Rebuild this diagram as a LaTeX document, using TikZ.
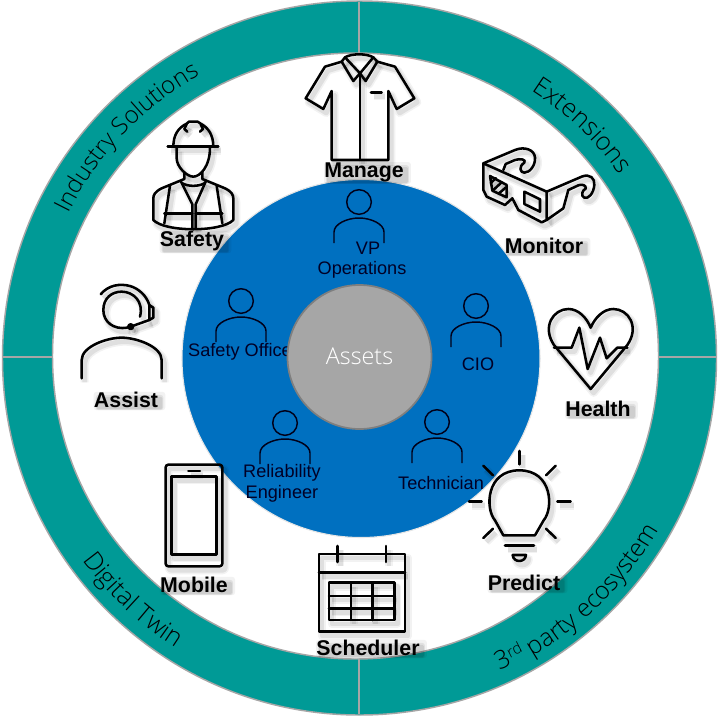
\documentclass[tikz,border=0pt]{standalone}
\usepackage{fontspec}
\setmainfont{Liberation Sans}
\newfontfamily\ringfont[UprightFont=* Light]{Open Sans}
\usetikzlibrary{decorations.text}
\definecolor{teal1}{HTML}{009A96}
\definecolor{blue1}{HTML}{0070C0}
\definecolor{grey1}{HTML}{A6A6A6}
\definecolor{grey2}{HTML}{7F7F7F}
\tikzset{
  ic/.style={},
  lw/.style={line width=1.9pt,line join=round,line cap=round},
  iconlabel/.style={font=\fontsize{16}{16}\selectfont\bfseries,inner sep=0pt},
  rolelabel/.style={font=\fontsize{13.6}{14}\selectfont,inner sep=0pt,text=black!85!blue},
  persondraw/.style={line width=1.1pt,draw=black!90!blue},
  person/.pic={
    \draw[persondraw] (0,0) circle[radius=12.3];
    \draw[persondraw] (-25,41) -- (-25,30) .. controls (-25,22) and (-12,16) .. (0,16) .. controls (12,16) and (25,22) .. (25,30) -- (25,41);
  }
}
% soft-shadowed line icon
\newcommand\softicon[2]{%
  \begin{scope}[shift={(3,4)}]\begin{scope}[#1]
    \tikzset{ic/.style={draw=black,opacity=.05,line width=6pt,line join=round}}#2
    \tikzset{ic/.style={draw=black,opacity=.08,line width=3.5pt,line join=round}}#2
  \end{scope}\end{scope}
  \begin{scope}[#1]
    \tikzset{ic/.style={draw=black,lw}}#2
  \end{scope}}
% bold label with a soft smudge of shadow (black on black leaves the text as it is)
\newcommand\lbl[4]{%
  \node[iconlabel] (#1) at (#2,#3) {#4};
  \fill[black,opacity=.05,rounded corners=2pt] ([shift={(0,2)}]#1.south west) rectangle ([shift={(7,0)}]#1.north east);
  \fill[black,opacity=.07,rounded corners=2pt] ([shift={(2,2)}]#1.south west) rectangle ([shift={(5,3)}]#1.north east);
  \fill[black,opacity=.08,rounded corners=1pt] ([shift={(3,1)}]#1.south west) rectangle ([shift={(4,5)}]#1.north east);}
\newcommand\ringtext[5]{%
  \path[decorate,decoration={text along path,text align=center,text={|\ringfont\fontsize{#5}{#5}\selectfont|#4}}]
    (359.5,358) ++(#1:#3*0.75pt) arc[start angle=#1,end angle=#2,radius=#3*0.75pt];}
\begin{document}
\begin{tikzpicture}[x=0.75pt,y=-0.75pt]
\path[use as bounding box,fill=white] (0,0) rectangle (720,717);
% ring
\path[fill=teal1,even odd rule,draw=grey1,line width=1.1pt]
  (359.5,358) circle[radius=357] (355.5,356) circle[radius=303];
\coordinate (dt1) at (359,2); \coordinate (dt2) at (359,53);
\coordinate (db1) at (359,659); \coordinate (db2) at (359,714);
\coordinate (dl1) at (2,357); \coordinate (dl2) at (52,357);
\coordinate (dr1) at (659,357); \coordinate (dr2) at (717,357);
\draw[grey1,line width=1.3pt] (dt1)--(dt2) (db1)--(db2) (dl1)--(dl2) (dr1)--(dr2);
% ring labels
\ringtext{154}{119}{325}{Industry Solutions}{18}
\ringtext{57}{35.5}{318}{Extensions}{19}
\ringtext{215.4}{238.3}{343}{Digital Twin}{19}
\ringtext{-60}{-29.7}{345}{party ecosystem}{18.5}
\node[inner sep=0pt,rotate=25,font=\ringfont\fontsize{19}{19}\selectfont] (third) at (502,659) {3};
\node[inner sep=0pt,rotate=27,font=\ringfont\fontsize{11.5}{11.5}\selectfont] (rd) at (514,650) {rd};
% blue disc
\path[fill=blue1,draw=black!10,line width=.8pt] (361,358.5) circle[radius=179];
\pic at (359,202) {person};
\pic at (241,301) {person};
\pic at (476,306) {person};
\pic at (285,423) {person};
\pic at (437,422) {person};
\node[rolelabel] (vp) at (368,248) {VP};
\node[rolelabel] (ops) at (362,270) {Operations};
\node[rolelabel] (so) at (243,352) {Safety Officer};
\node[rolelabel] (cio) at (478,364) {CIO};
\node[rolelabel] (rel) at (282,473) {Reliability};
\node[rolelabel] (eng) at (282,494) {Engineer};
\node[rolelabel] (tech) at (441,483) {Technician};
% centre
\node[circle,fill=grey1,draw=grey2,line width=1.3pt,minimum size=108pt,inner sep=0pt,font=\ringfont\fontsize{17.5}{18}\selectfont,text=white] (assets) at (359.5,357) {\raisebox{1pt}{Assets}};
% shirt
\softicon{shift={(295,45)},scale=0.3333}{
  \draw[ic] (150,37) -- (140,50) -- (90,65) -- (32,160) -- (85,192) -- (110,138) -- (110,345) -- (280,345) -- (280,138) -- (305,192) -- (358,160) -- (300,65) -- (247,50) -- (235,37) .. controls (215,25) and (170,25) .. (150,37);
  \draw[ic] (140,50) -- (175,108) -- (195,85) -- (212,108) -- (247,50);
  \draw[ic] (150,37) -- (195,85) -- (235,37);
  \draw[ic] (195,85) -- (195,345);
  \draw[ic] (228,142) -- (260,142);
}
% safety worker
\softicon{shift={(145,115)},scale=0.3333}{
  \draw[ic] (68,95) -- (220,95);
  \draw[ic] (85,95) .. controls (85,60) and (100,38) .. (125,26) -- (132,20) -- (158,20) -- (167,26) .. controls (190,38) and (205,60) .. (205,95);
  \draw[ic] (125,28) -- (118,42) -- (127,50);
  \draw[ic] (167,28) -- (174,42) -- (165,50);
  \draw[ic] (95,98) -- (95,130) .. controls (95,155) and (125,185) .. (145,185) .. controls (165,185) and (195,155) .. (195,98);
  \draw[ic] (118,172) -- (118,192) -- (50,220) .. controls (30,230) and (25,240) .. (25,250) -- (25,315) .. controls (60,352) and (230,352) .. (265,315) -- (265,250) .. controls (265,240) and (260,230) .. (240,220) -- (172,192) -- (172,172);
  \draw[ic] (112,205) .. controls (130,215) and (160,215) .. (178,205);
  \draw[ic] (75,212) -- (58,325);
  \draw[ic] (215,212) -- (232,325);
  \draw[ic] (108,200) -- (142,268) -- (142,340);
  \draw[ic] (182,200) -- (152,268) -- (152,340);
  \draw[ic] (58,295) -- (142,295);
  \draw[ic] (152,295) -- (232,295);
}
% 3D glasses
\softicon{shift={(475,140)},scale=0.3333}{
  \draw[ic] (25,70) -- (215,155) -- (215,240) -- (200,247) -- (130,210) -- (112,175) -- (90,195) -- (35,170) -- (25,150) -- cycle;
  \draw[ic] (45,108) -- (95,135) -- (95,172) -- (52,152) -- cycle;
  \draw[ic] (148,155) -- (195,178) -- (195,215) -- (148,192) -- cycle;
  \draw[ic] (47,130) -- (62,114) (55,150) -- (80,127) (72,160) -- (93,142);
  \draw[ic] (25,70) -- (120,30) .. controls (150,18) and (178,30) .. (180,52) .. controls (182,75) and (165,98) .. (148,98) .. controls (135,98) and (130,80) .. (148,68) .. controls (155,58) and (135,55) .. (120,60) -- (92,72) -- (85,90);
  \draw[ic] (215,155) -- (320,110) .. controls (345,100) and (360,115) .. (358,135) .. controls (356,160) and (340,178) .. (328,173) .. controls (316,168) and (322,150) .. (332,146) .. controls (335,135) and (320,132) .. (310,136) -- (280,150) -- (265,205) -- (215,240);
}
% heart
\softicon{shift={(540,295)},scale=0.3333}{
  \draw[ic] (152,282) -- (42,150) .. controls (5,95) and (40,42) .. (85,42) .. controls (115,42) and (140,68) .. (152,98) .. controls (165,68) and (190,42) .. (220,42) .. controls (265,42) and (300,95) .. (262,150) -- cycle;
  \draw[ic] (42,158) -- (95,158) -- (118,98) -- (143,222) -- (180,128) -- (200,190) -- (232,158) -- (262,158);
}
% headset agent
\softicon{shift={(70,275)},scale=0.3333}{
  \draw[ic] (172,158) .. controls (130,165) and (100,140) .. (100,105) .. controls (100,70) and (125,50) .. (155,50) .. controls (190,50) and (222,80) .. (210,125);
  \draw[ic] (92,58) .. controls (115,30) and (150,25) .. (180,33) .. controls (205,40) and (230,62) .. (238,90);
  \draw[ic] (238,90) -- (250,98) -- (250,128) -- (238,135) -- cycle;
  \draw[ic] (238,135) -- (182,155);
  \draw[ic,fill=black] (182,155) circle[radius=7];
  \draw[ic] (35,310) -- (35,255) .. controls (35,215) and (110,188) .. (155,188) .. controls (200,188) and (275,215) .. (275,255) -- (275,310);
}
% phone
\softicon{shift={(0,357)},scale=0.3333}{
  \draw[ic,rounded corners=2pt] (497,323) rectangle (667,628);
  \draw[ic] (514,358) rectangle (650,592);
  \draw[ic] (565,342) -- (600,342);
}
% calendar
\softicon{shift={(305,540)},scale=0.3333}{
  \draw[ic] (42,42) rectangle (300,275);
  \draw[ic] (42,97) -- (300,97);
  \draw[ic] (97,18) -- (97,66);
  \draw[ic] (243,18) -- (243,66);
  \draw[ic] (72,128) rectangle (268,240);
  \draw[ic] (72,168) -- (268,168);
  \draw[ic] (72,205) -- (268,205);
  \draw[ic] (138,128) -- (138,240);
  \draw[ic] (203,128) -- (203,240);
}
% bulb
\softicon{shift={(360,357)},scale=0.3333}{
  \draw[ic] (430,535) -- (405,490) .. controls (375,455) and (378,340) .. (478,340) .. controls (578,340) and (581,455) .. (551,490) -- (525,535) -- cycle;
  \draw[ic] (435,565) -- (522,565);
  \draw[ic] (458,594) -- (498,594) .. controls (496,618) and (460,618) .. (458,594) -- cycle;
  \draw[ic] (478,282) -- (478,322);
  \draw[ic] (558,355) -- (587,326);
  \draw[ic] (592,434) -- (632,434);
  \draw[ic] (558,515) -- (587,543);
  \draw[ic] (370,326) -- (399,355);
  \draw[ic] (327,434) -- (365,434);
  \draw[ic] (370,543) -- (399,515);
}
% labels
\lbl{manage}{364}{172}{Manage}
\lbl{safety}{192}{241}{Safety}
\lbl{monitor}{544}{246}{Monitor}
\lbl{assist}{126}{400}{Assist}
\lbl{health}{598}{409}{Health}
\lbl{mobile}{194}{585}{Mobile}
\lbl{scheduler}{368}{648}{Scheduler}
\lbl{predict}{524}{583}{Predict}
\end{tikzpicture}
\end{document}
